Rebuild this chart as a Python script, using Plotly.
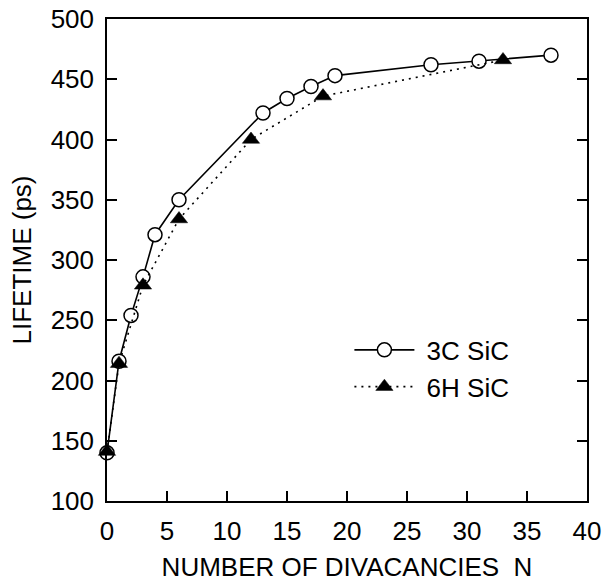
import plotly.graph_objects as go

# 3C SiC
n_3c = [0, 1, 2, 3, 4, 6, 13, 15, 17, 19, 27, 31, 37]
lt_3c = [140, 216, 254, 286, 321, 350, 422, 434, 444, 453, 462, 465, 470]
# 6H SiC
n_6h = [0, 1, 3, 6, 12, 18, 33]
lt_6h = [141, 214, 279, 334, 400, 436, 466]

x_ticks = [0, 5, 10, 15, 20, 25, 30, 35, 40]
y_ticks = [100, 150, 200, 250, 300, 350, 400, 450, 500]

FONT = "Liberation Sans, Arial, Helvetica, sans-serif"
FS = 26

fig = go.Figure()
fig.add_trace(go.Scatter(
    x=n_3c, y=lt_3c, name="&nbsp;3C SiC", mode="lines+markers",
    line=dict(color="black", width=1.6),
    marker=dict(symbol="circle", size=14, color="white",
                line=dict(color="black", width=1.5)),
    cliponaxis=False,
))
fig.add_trace(go.Scatter(
    x=n_6h, y=lt_6h, name="&nbsp;6H SiC", mode="lines+markers",
    line=dict(color="black", width=1.6, dash="2px,5px"),
    marker=dict(symbol="triangle-up", size=15, color="black",
                line=dict(color="black", width=0.5)),
    cliponaxis=False,
))

fig.update_layout(
    width=602, height=582,
    margin=dict(l=107, r=15, t=19, b=81),
    paper_bgcolor="white", plot_bgcolor="white",
    font=dict(family=FONT, size=FS, color="black"),
    showlegend=True,
    legend=dict(x=0.505, y=0.275, xanchor="left", yanchor="middle",
                bgcolor="rgba(0,0,0,0)", font=dict(size=FS),
                itemwidth=60, tracegroupgap=0),
)
fig.update_xaxes(
    range=[0, 40], tickvals=x_ticks, ticktext=[str(v) for v in x_ticks],
    ticks="inside", ticklen=10, tickwidth=1.5, tickcolor="black",
    showline=True, linecolor="black", linewidth=1.5, mirror=True,
    showgrid=False, zeroline=False, automargin=False,
    ticklabelstandoff=6,
    tickfont=dict(size=FS, family=FONT),
    title=dict(text="NUMBER OF DIVACANCIES&nbsp;&nbsp;N", font=dict(size=FS, family=FONT), standoff=16),
)
fig.update_yaxes(
    range=[100, 500], tickvals=y_ticks, ticktext=[str(v) for v in y_ticks],
    ticks="inside", ticklen=10, tickwidth=1.5, tickcolor="black",
    showline=True, linecolor="black", linewidth=1.5, mirror="ticks",
    showgrid=False, zeroline=False, automargin=False,
    ticklabelstandoff=6,
    tickfont=dict(size=FS, family=FONT),
    title=dict(text="LIFETIME (ps)", font=dict(size=FS, family=FONT), standoff=12),
)

fig.write_html("out.html", config={"displayModeBar": False},
               post_script="document.body.style.margin='0px';document.body.style.overflow='hidden';")
